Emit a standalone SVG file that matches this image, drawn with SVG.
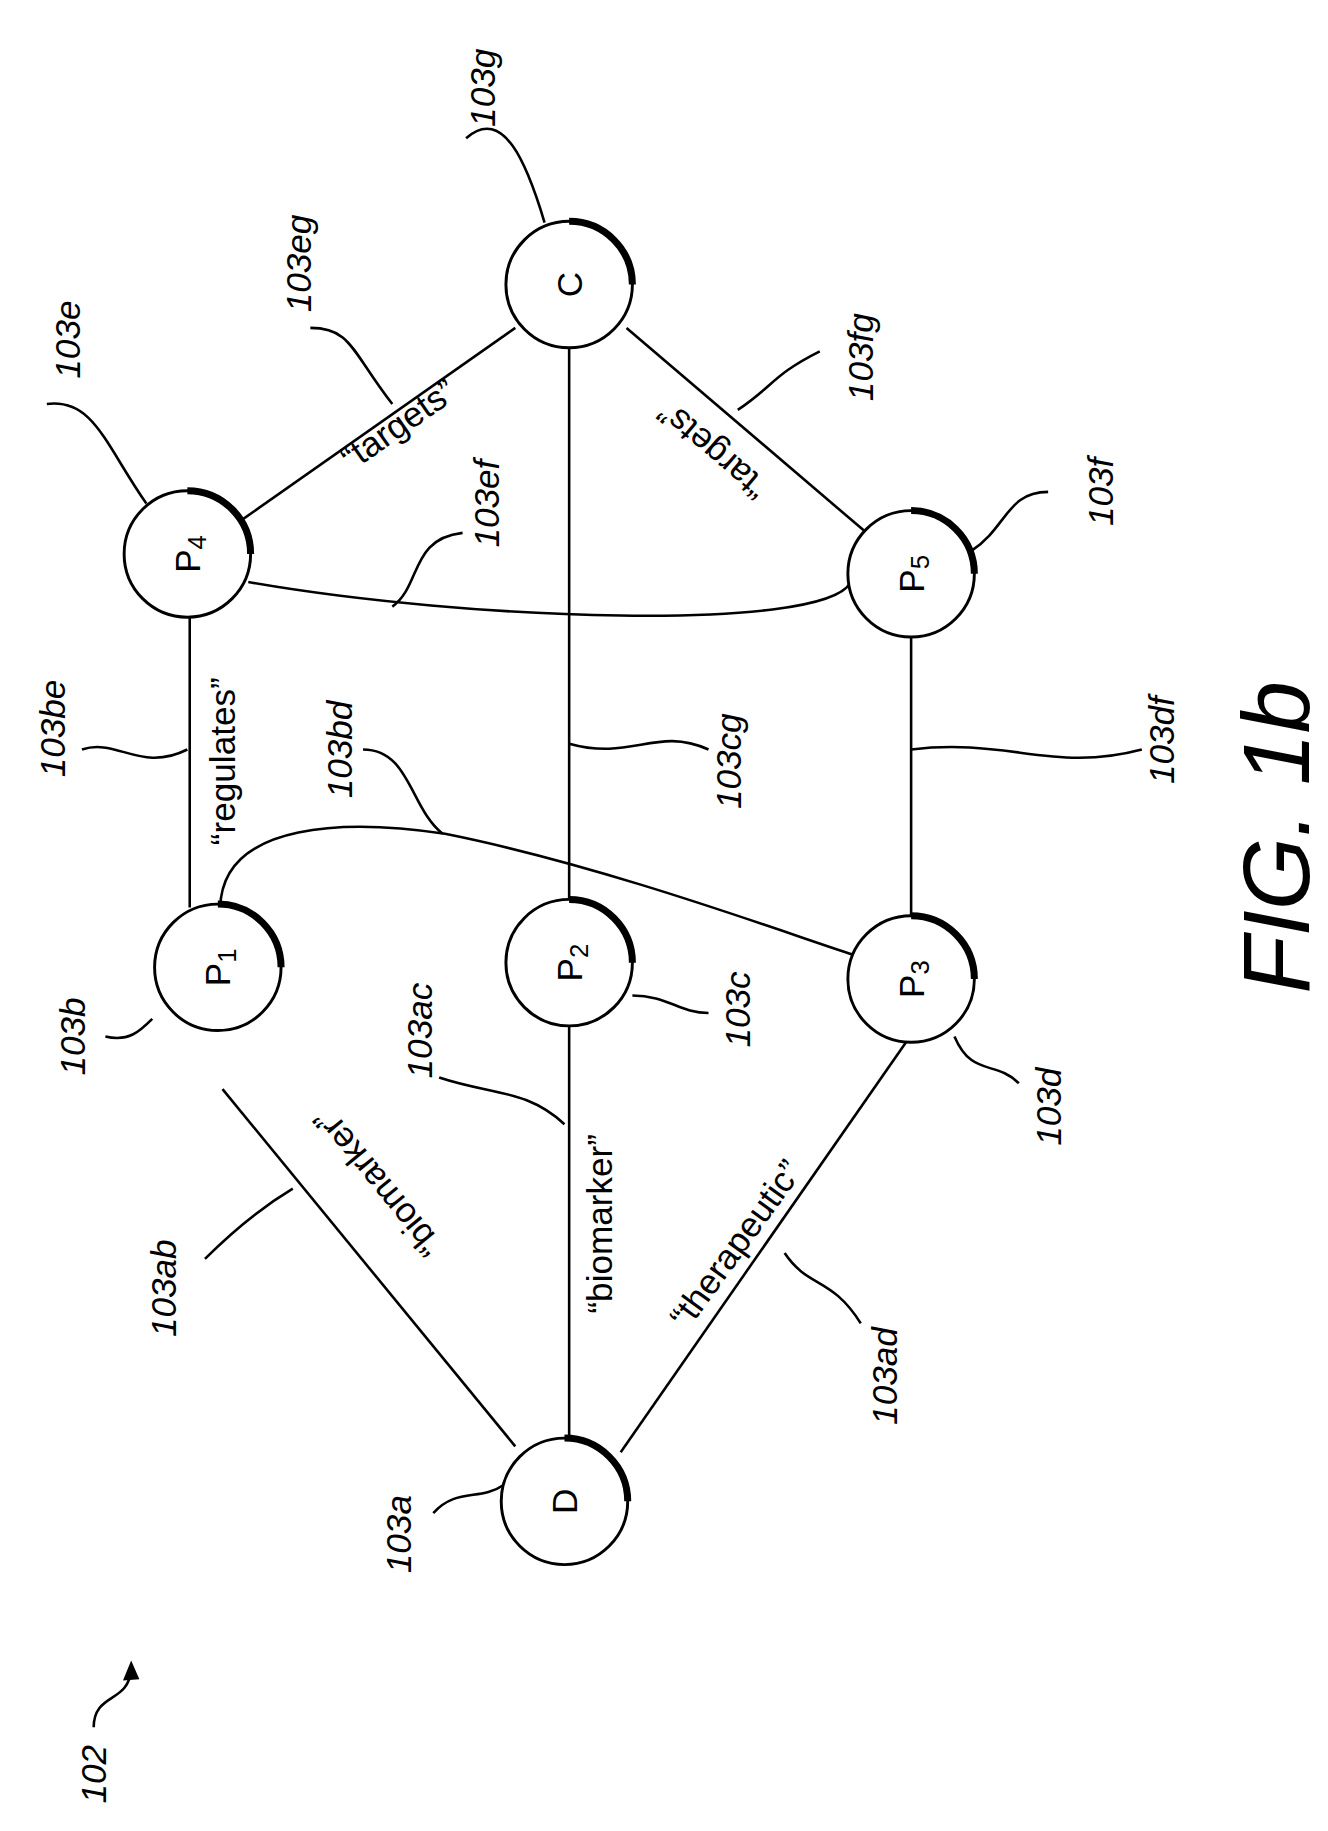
<svg xmlns="http://www.w3.org/2000/svg" width="1328" height="1831" viewBox="0 0 1328 1831">
<style>
.n{fill:#fff;stroke:#000;stroke-width:2.5}
.sh{fill:none;stroke:#000;stroke-width:6}
.e{fill:none;stroke:#000;stroke-width:2.2}
.t{font-family:"Liberation Sans",Arial,sans-serif;font-size:30px;text-anchor:middle;dominant-baseline:central}
.r{font-family:"Liberation Sans",Arial,sans-serif;font-size:30px;font-style:italic;text-anchor:middle;dominant-baseline:central}
.s{font-size:22px}
</style>
<rect width="1328" height="1831" fill="#fff"/>
<g transform="scale(1.1711)">
<g id="connectors">
<line class="e" x1="190" y1="930" x2="440" y2="1235"/>
<line class="e" x1="486" y1="876" x2="486" y2="1228"/>
<line class="e" x1="775" y1="888" x2="530" y2="1240"/>
<line class="e" x1="162" y1="527" x2="162" y2="775"/>
<line class="e" x1="486" y1="297" x2="486" y2="768"/>
<line class="e" x1="778" y1="544" x2="778" y2="782"/>
<line class="e" x1="205" y1="445" x2="440" y2="280"/>
<line class="e" x1="535" y1="280" x2="740" y2="455"/>
<path class="e" d="M212,497 C400,530 700,540 726,498"/>
<path class="e" d="M188,775 C190,700 300,700 380,712 C520,740 680,800 728,815"/>
</g>
<g id="leaders" class="e">
<path class="e" d="M370,1292 C390,1270 410,1282 430,1268"/>
<path class="e" d="M175,1075 C200,1050 225,1030 250,1015"/>
<path class="e" d="M375,920 C420,935 450,930 482,960"/>
<path class="e" d="M735,1130 C710,1090 690,1100 670,1070"/>
<path class="e" d="M90,885 C110,890 120,880 130,870"/>
<path class="e" d="M540,850 C570,850 580,865 605,865"/>
<path class="e" d="M815,885 C830,920 850,905 870,925"/>
<path class="e" d="M70,640 C100,630 120,660 160,640"/>
<path class="e" d="M310,640 C350,640 350,690 378,712"/>
<path class="e" d="M605,640 C560,620 540,650 486,635"/>
<path class="e" d="M975,640 C900,660 860,630 778,640"/>
<path class="e" d="M40,345 C80,340 90,380 125,430"/>
<path class="e" d="M265,280 C300,280 300,300 335,345"/>
<path class="e" d="M398,118 C430,90 450,140 465,190"/>
<path class="e" d="M395,455 C350,460 360,500 335,518"/>
<path class="e" d="M700,300 C660,320 660,330 630,350"/>
<path class="e" d="M895,420 C860,420 860,450 830,470"/>
</g>
<g id="D"><circle class="n" cx="482" cy="1282" r="54"/><path class="sh" d="M482,1228 A54,54 0 0 1 536,1282"/><text class="t" transform="translate(482,1282) rotate(-90)">D</text></g>
<g id="P1"><circle class="n" cx="186" cy="826" r="54"/><path class="sh" d="M186,772 A54,54 0 0 1 240,826"/><text class="t" transform="translate(186,826) rotate(-90)">P<tspan class="s" dy="8">1</tspan></text></g>
<g id="P2"><circle class="n" cx="486" cy="822" r="54"/><path class="sh" d="M486,768 A54,54 0 0 1 540,822"/><text class="t" transform="translate(486,822) rotate(-90)">P<tspan class="s" dy="8">2</tspan></text></g>
<g id="P3"><circle class="n" cx="778" cy="836" r="54"/><path class="sh" d="M778,782 A54,54 0 0 1 832,836"/><text class="t" transform="translate(778,836) rotate(-90)">P<tspan class="s" dy="8">3</tspan></text></g>
<g id="P4"><circle class="n" cx="160" cy="473" r="54"/><path class="sh" d="M160,419 A54,54 0 0 1 214,473"/><text class="t" transform="translate(160,473) rotate(-90)">P<tspan class="s" dy="8">4</tspan></text></g>
<g id="C"><circle class="n" cx="486" cy="243" r="54"/><path class="sh" d="M486,189 A54,54 0 0 1 540,243"/><text class="t" transform="translate(486,243) rotate(-90)">C</text></g>
<g id="P5"><circle class="n" cx="778" cy="490" r="54"/><path class="sh" d="M778,436 A54,54 0 0 1 832,490"/><text class="t" transform="translate(778,490) rotate(-90)">P<tspan class="s" dy="8">5</tspan></text></g>
<g id="edge-labels">
<text class="t" transform="translate(322,1010) rotate(-129.3)">“biomarker”</text>
<text class="t" transform="translate(512,1045) rotate(-90)">“biomarker”</text>
<text class="t" transform="translate(628,1062) rotate(-54)">“therapeutic”</text>
<text class="t" transform="translate(190,650) rotate(-90)">“regulates”</text>
<text class="t" transform="translate(340,362) rotate(-35)">“targets”</text>
<text class="t" transform="translate(608,385) rotate(-139.5)">“targets”</text>
</g>
<g id="ref-labels">
<text class="r" transform="translate(340,1310) rotate(-90)">103a</text>
<text class="r" transform="translate(140,1100) rotate(-90)">103ab</text>
<text class="r" transform="translate(358,880) rotate(-90)">103ac</text>
<text class="r" transform="translate(755,1175) rotate(-90)">103ad</text>
<text class="r" transform="translate(62,885) rotate(-90)">103b</text>
<text class="r" transform="translate(630,862) rotate(-90)">103c</text>
<text class="r" transform="translate(895,945) rotate(-90)">103d</text>
<text class="r" transform="translate(45,622) rotate(-90)">103be</text>
<text class="r" transform="translate(290,640) rotate(-90)">103bd</text>
<text class="r" transform="translate(622,650) rotate(-90)">103cg</text>
<text class="r" transform="translate(992,632) rotate(-90)">103df</text>
<text class="r" transform="translate(58,290) rotate(-90)">103e</text>
<text class="r" transform="translate(255,225) rotate(-90)">103eg</text>
<text class="r" transform="translate(412,75) rotate(-90)">103g</text>
<text class="r" transform="translate(415,430) rotate(-90)">103ef</text>
<text class="r" transform="translate(735,305) rotate(-90)">103fg</text>
<text class="r" transform="translate(940,420) rotate(-90)">103f</text>
<text class="r" transform="translate(80,1515) rotate(-90)">102</text>
<path class="e" d="M80,1475 C80,1445 110,1455 112,1425"/>
<path d="M112,1418 L105,1435 L119,1434 Z"/>
<text class="r" transform="translate(1090,715) rotate(-90)" style="font-size:80px">FIG. 1b</text>
</g>
</g>
</svg>
